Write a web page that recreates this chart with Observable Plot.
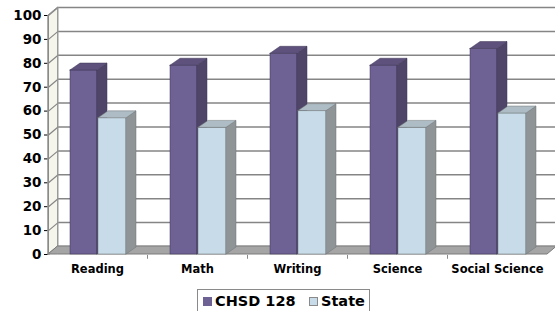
<!DOCTYPE html>
<html>
<head>
<meta charset="utf-8">
<script src="https://cdn.jsdelivr.net/npm/d3@7"></script>
<script src="https://cdn.jsdelivr.net/npm/@observablehq/plot@0.6"></script>
<style>
  html, body { margin: 0; padding: 0; background: #fff; }
  #wrap { position: relative; width: 555px; height: 311px; overflow: hidden; font-family: "DejaVu Sans", sans-serif; }
  #legend { position: absolute; left: 197px; top: 289px; width: 173px; height: 26px; border: 1px solid #8a8a8a; box-sizing: border-box; background: #fff; font-weight: bold; font-size: 14.5px; color: #000; }
  #legend .item { position: absolute; top: 3px; line-height: 16px; white-space: nowrap; }
  #legend .sw { display: inline-block; width: 9px; height: 9px; margin-right: 3px; vertical-align: 0px; box-sizing: border-box; }
</style>
</head>
<body>
<div id="wrap"><div id="chart"></div><div id="legend"></div></div>
<script>
const categories = ["Reading", "Math", "Writing", "Science", "Social Science"];
const seriesNames = ["CHSD 128", "State"];
const chsd = [77, 79, 84, 79, 86];
const state = [57, 53, 60, 53, 59];
const yTicks = [0, 10, 20, 30, 40, 50, 60, 70, 80, 90, 100];

const colors = {
  "CHSD 128": {front: "#6e6193", top: "#5e527d", side: "#4f4568", edge: "#3f3655"},
  "State": {front: "#c7dce8", top: "#aebdc5", side: "#8f9497", edge: "#6f7477"}
};

// oblique depth (in data units)
const wallDX = 0.095, wallDY = 3.35;
const barDX = 0.1, barDY = 2.9;
const xLeft = -0.49, xRight = 4.5;

// bar geometry from the data
const bars = [];
categories.forEach((c, i) => {
  bars.push({cat: c, series: "CHSD 128", v: chsd[i], x1: i - 0.27, x2: i});
  bars.push({cat: c, series: "State", v: state[i], x1: i + 0.01, x2: i + 0.29});
});
bars.forEach((b, k) => b.id = k);

function topFace(b) {
  return [
    {id: b.id, x: b.x1, y1: b.v, y2: b.v},
    {id: b.id, x: b.x1 + barDX, y1: b.v, y2: b.v + barDY},
    {id: b.id, x: b.x2, y1: b.v, y2: b.v + barDY},
    {id: b.id, x: b.x2 + barDX, y1: b.v + barDY, y2: b.v + barDY}
  ];
}
function sideFace(b) {
  return [
    {id: b.id, x: b.x2, y1: 0, y2: b.v},
    {id: b.id, x: b.x2 + barDX, y1: barDY, y2: b.v + barDY}
  ];
}

const floor = [
  {x: xLeft, y1: 0, y2: 0},
  {x: xLeft + wallDX, y1: 0, y2: wallDY},
  {x: xRight, y1: 0, y2: wallDY},
  {x: xRight + wallDX, y1: wallDY, y2: wallDY}
];
const leftWall = [
  {x: xLeft, y1: 0, y2: 100},
  {x: xLeft + wallDX, y1: wallDY, y2: 100 + wallDY}
];

const barMarks = [];
for (const s of seriesNames) {
  const bs = bars.filter(b => b.series === s);
  const col = colors[s];
  barMarks.push(
    Plot.rect(bs, {x1: "x1", x2: "x2", y1: 0, y2: "v", fill: col.front, stroke: col.edge, strokeWidth: 0.5}),
    Plot.areaY(bs.flatMap(sideFace), {x: "x", y1: "y1", y2: "y2", z: "id", fill: col.side, stroke: col.edge, strokeWidth: 0.5, curve: "linear"}),
    Plot.areaY(bs.flatMap(topFace), {x: "x", y1: "y1", y2: "y2", z: "id", fill: col.top, stroke: col.edge, strokeWidth: 0.5, curve: "linear"})
  );
}

const chart = Plot.plot({
  width: 555,
  height: 285,
  marginTop: 15,
  marginBottom: 31,
  marginLeft: 48,
  marginRight: 0,
  style: {fontFamily: "DejaVu Sans, sans-serif", fontSize: "13.5px", fontWeight: "bold", color: "#000", background: "transparent", overflow: "visible"},
  x: {domain: [xLeft, 4.58], axis: null},
  y: {domain: [0, 100], ticks: yTicks, tickSize: 4, tickPadding: 3, label: null, tickFormat: d => String(d)},
  marks: [
    // left side wall
    Plot.areaY(leftWall, {x: "x", y1: "y1", y2: "y2", fill: "#f5f5ec", stroke: "#9a9a9a", strokeWidth: 1}),
    // back wall gridlines
    Plot.ruleY(yTicks, {y: d => d + wallDY, x1: xLeft + wallDX, x2: 4.58, stroke: "#858585", strokeWidth: 1.5}),
    // side wall gridlines
    Plot.link(yTicks, {x1: xLeft, y1: d => d, x2: xLeft + wallDX, y2: d => d + wallDY, stroke: "#858585", strokeWidth: 1.2}),
    // back wall left edge
    Plot.ruleX([xLeft + wallDX], {y1: wallDY, y2: 100 + wallDY, stroke: "#9a9a9a", strokeWidth: 1}),
    // floor
    Plot.areaY(floor, {x: "x", y1: "y1", y2: "y2", fill: "#a5a5a5", stroke: "#7a7a7a", strokeWidth: 1}),
    // front value axis line
    Plot.ruleX([xLeft], {y1: 0, y2: 100, stroke: "#8a8a8a", strokeWidth: 1}),
    ...barMarks,
    // category tick marks
    Plot.ruleX(d3.range(categories.length - 1).map(i => i + 0.5), {y1: -0.4, y2: -2, stroke: "#8a8a8a", strokeWidth: 1}),
    // category labels
    Plot.text(categories, {x: (d, i) => i, y: 0, dy: 15, text: d => d, fontSize: 11.5, fontWeight: "bold", fill: "#000", textAnchor: "middle"})
  ]
});
document.getElementById("chart").appendChild(chart);

// legend
const legend = document.getElementById("legend");
const legendX = [5, 111];
seriesNames.forEach((s, i) => {
  const it = document.createElement("div");
  it.className = "item";
  it.style.left = legendX[i] + "px";
  const sw = document.createElement("span");
  sw.className = "sw";
  sw.style.background = colors[s].front;
  sw.style.border = "1px solid " + (i === 0 ? colors[s].front : "#8a8a8a");
  it.appendChild(sw);
  it.appendChild(document.createTextNode(s));
  legend.appendChild(it);
});
</script>
</body>
</html>
